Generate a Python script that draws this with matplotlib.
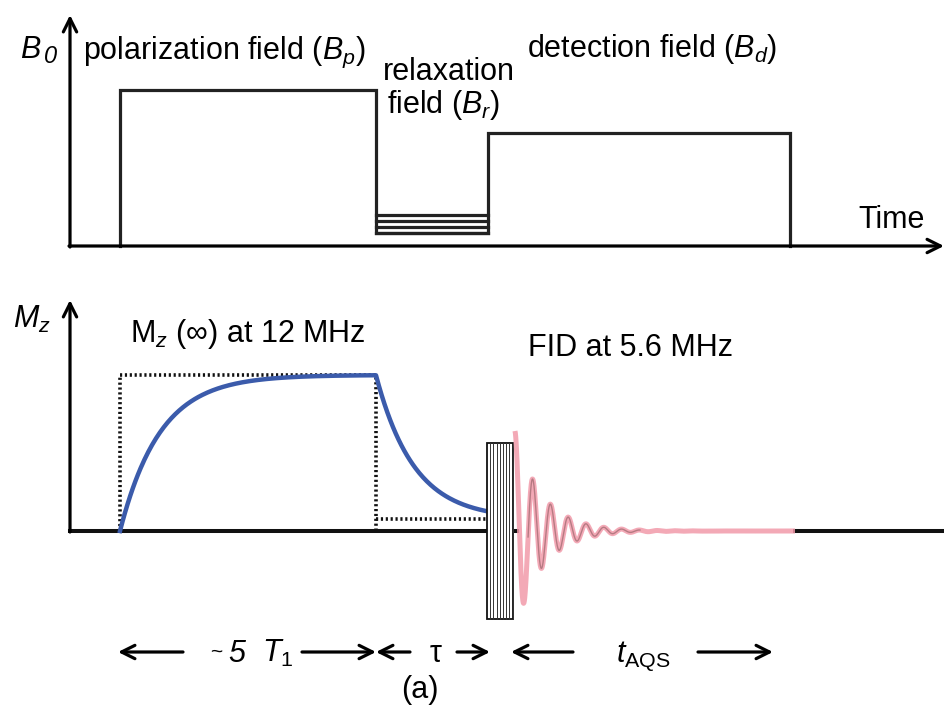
import numpy as np
import matplotlib.pyplot as plt
from matplotlib.patches import Rectangle

plt.rcParams['font.family'] = ['Liberation Sans', 'DejaVu Sans']
plt.rcParams['mathtext.fontset'] = 'custom'
plt.rcParams['mathtext.rm'] = 'Liberation Sans'
plt.rcParams['mathtext.it'] = 'Liberation Sans:italic'
plt.rcParams['mathtext.sf'] = 'Liberation Sans'

# field cycle: switching times along the time axis
t_switch = [120, 376, 488, 790]   # polarization on, relaxation, detection, off
# field levels above the time axis
B_p = 156
B_d = 113
B_r = [13, 19, 25, 31]            # stepped relaxation fields

# longitudinal magnetization
M_inf = 156       # Mz(inf) at 12 MHz
M_r = 12          # equilibrium Mz in the relaxation field
T1_pol = 40       # build-up time constant
T1_rel = 38       # decay time constant

# excitation pulse and FID
pulse = [487, 513]
pulse_h = 88
fid_start = 515
fid_amp = 100
fid_period = 17.8
fid_T2 = 27
fid_end = 795

# baselines of the two panels
y_top = 459
y_bot = 174
x_axis = 70

fig = plt.figure(figsize=(9.44, 7.05), dpi=100)
ax = fig.add_axes([0, 0, 1, 1])
ax.set_xlim(0, 944)
ax.set_ylim(0, 705)
ax.axis('off')

lw = 2.3
arrow = dict(arrowstyle='->', lw=lw, color='black', mutation_scale=24, shrinkA=0, shrinkB=0)

# ---- top panel: B0 vs time ----
ax.annotate('', xy=(944, y_top), xytext=(x_axis - 1, y_top), arrowprops=arrow)
ax.annotate('', xy=(x_axis, 690), xytext=(x_axis, y_top - 1), arrowprops=arrow)

t0, t1, t2, t3 = t_switch
wave_x = [t0, t0, t1, t1, t2, t2, t3, t3]
wave_y = [0, B_p, B_p, B_r[0], B_r[0], B_d, B_d, 0]
ax.plot(wave_x, np.array(wave_y) + y_top, color='#222222', lw=lw, solid_joinstyle='miter')
for b in B_r:
    ax.plot([t1, t2], [y_top + b, y_top + b], color='#222222', lw=lw)

ax.text(20, 647, 'B', fontsize=22, style='italic')
ax.text(44, 642, '0', fontsize=17, style='italic')
ax.text(83, 646, r'polarization field ($B_p$)', fontsize=22)
ax.text(383, 625, 'relaxation', fontsize=22)
ax.text(387, 592, r'field ($B_r$)', fontsize=22)
ax.text(527, 648, r'detection field ($B_d$)', fontsize=22)
ax.text(858, 477, 'Time', fontsize=22)

# ---- bottom panel: Mz vs time ----
ax.annotate('', xy=(x_axis, 405), xytext=(x_axis, y_bot - 1), arrowprops=arrow)
ax.plot([x_axis, 517], [y_bot, y_bot], color='#111111', lw=lw + 0.6, zorder=1)
ax.plot([fid_end, 944], [y_bot, y_bot], color='#111111', lw=lw + 0.6, zorder=1)

# field-following magnetization (dotted)
dot = dict(color='#111111', lw=2.6, linestyle=(0, (0.6, 0.75)))
ax.plot([t0, t0, t1, t1], np.array([0, M_inf, M_inf, 0]) + y_bot, **dot)
ax.plot([t1, t2], [y_bot + M_r, y_bot + M_r], **dot)

# build-up and relaxation of Mz
t_up = np.linspace(t0, t1, 200)
m_up = M_inf * (1 - np.exp(-(t_up - t0) / T1_pol))
t_dn = np.linspace(t1, t2, 120)
m_dn = M_r + (m_up[-1] - M_r) * np.exp(-(t_dn - t1) / T1_rel)
ax.plot(np.r_[t_up, t_dn], np.r_[m_up, m_dn] + y_bot, color='#3b5bab', lw=3.2, zorder=3)

# excitation pulse
ax.add_patch(Rectangle((pulse[0], y_bot - pulse_h), pulse[1] - pulse[0], 2 * pulse_h,
                       facecolor='white', edgecolor='#111111', lw=1.3, zorder=4))
for xv in np.arange(pulse[0] + 3.2, pulse[1], 3.2):
    ax.plot([xv, xv], [y_bot - pulse_h, y_bot + pulse_h], color='#333333', lw=0.7, zorder=4)

# free induction decay
t_fid = np.linspace(fid_start, fid_end, 1500)
s = fid_amp * np.exp(-(t_fid - fid_start) / fid_T2) * np.cos(2 * np.pi * (t_fid - fid_start) / fid_period)
ax.plot(t_fid, s + y_bot, color='#f29aaa', lw=3.6, alpha=0.85, solid_capstyle='butt', zorder=5)
osc = (t_fid > 528) & (t_fid < 640)
ax.plot(t_fid[osc], s[osc] + y_bot, color='#7a4c50', lw=1.0, alpha=0.5, zorder=6)

ax.text(13, 377, r'$M_z$', fontsize=22)
ax.text(130, 363, r'M$_z$ ($\infty$) at 12 MHz', fontsize=22)
ax.text(528, 349, 'FID at 5.6 MHz', fontsize=22)

# ---- time intervals ----
y_arr = 53
ax.annotate('', xy=(118, y_arr), xytext=(183, y_arr), arrowprops=arrow)
ax.text(216, 47, '~', fontsize=15, ha='center')
ax.text(228, 43, '5', fontsize=22, style='italic')
ax.text(262, 43, r'$T_1$', fontsize=22)
ax.annotate('', xy=(376, y_arr), xytext=(302, y_arr), arrowprops=arrow)
ax.annotate('', xy=(376, y_arr), xytext=(410, y_arr), arrowprops=arrow)
ax.text(436, 43, '\u03c4', fontsize=22, ha='center')
ax.annotate('', xy=(490, y_arr), xytext=(457, y_arr), arrowprops=arrow)
ax.annotate('', xy=(511, y_arr), xytext=(573, y_arr), arrowprops=arrow)
ax.text(616, 43, r'$t_{\mathrm{AQS}}$', fontsize=22)
ax.annotate('', xy=(773, y_arr), xytext=(698, y_arr), arrowprops=arrow)
ax.text(420, 7, '(a)', fontsize=22, ha='center')

fig.savefig('out.png', dpi=100)
